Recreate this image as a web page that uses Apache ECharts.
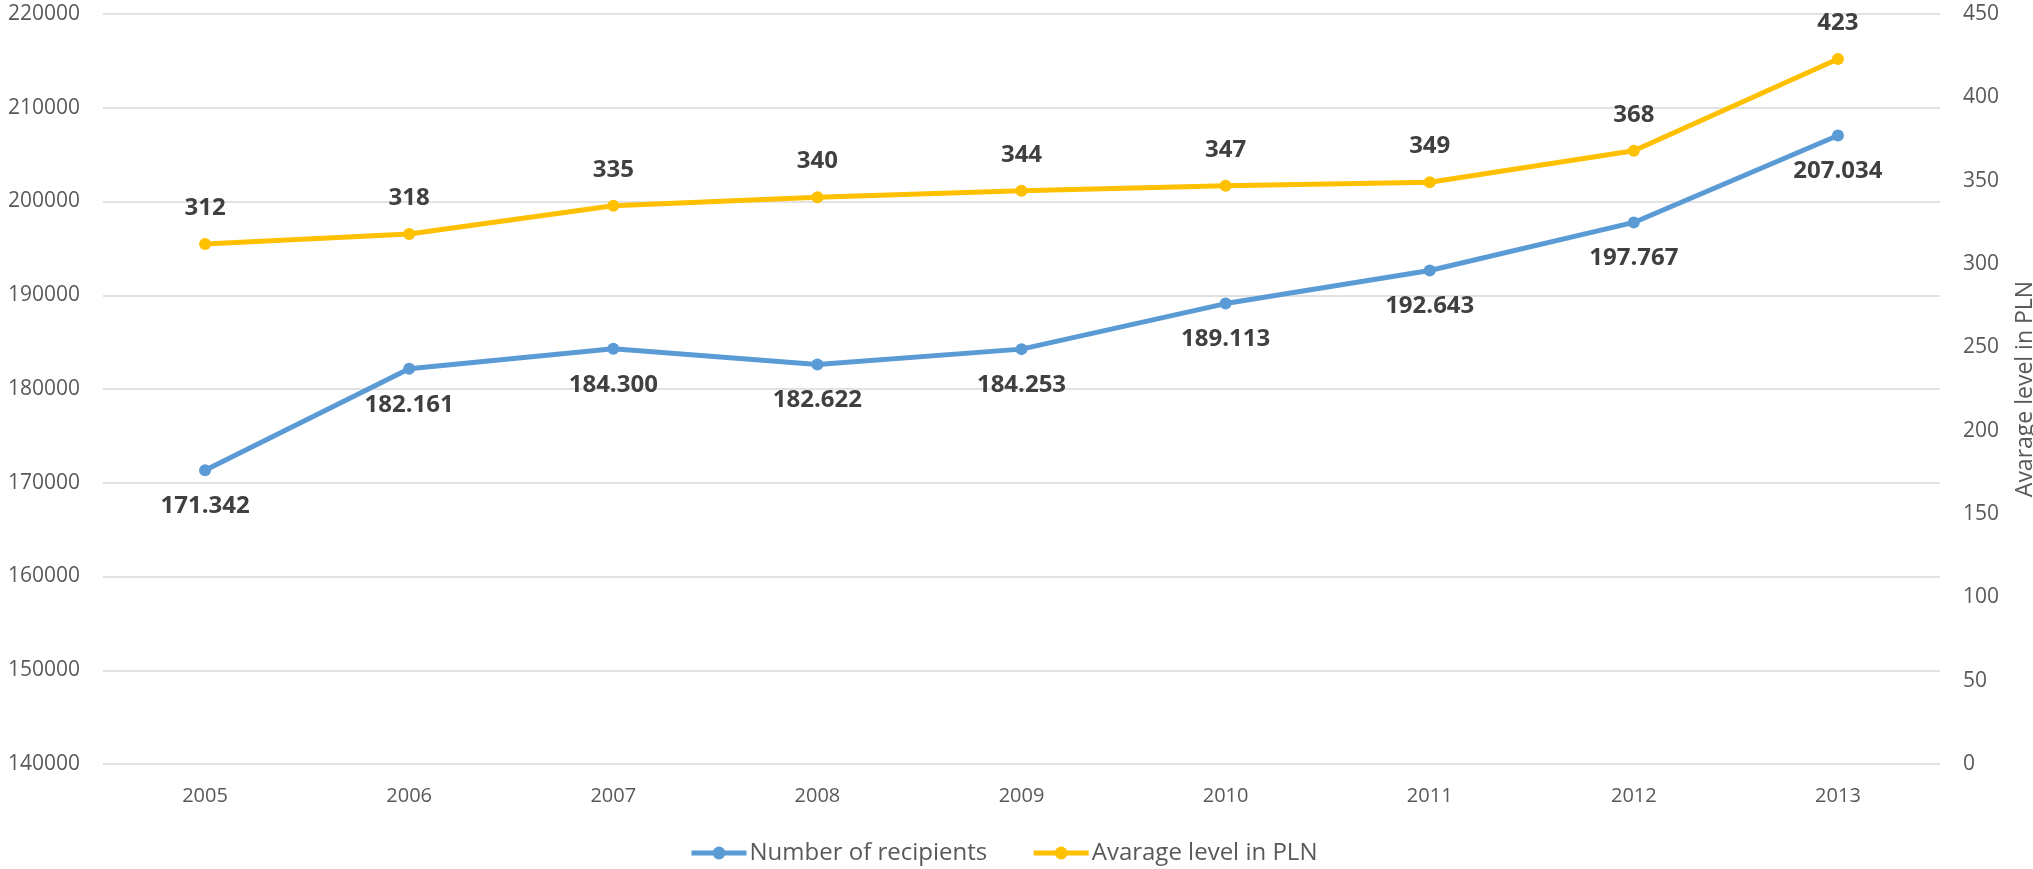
<!DOCTYPE html>
<html>
<head>
<meta charset="utf-8">
<style>
  html, body { margin: 0; padding: 0; background: #fff; }
  #chart { width: 2033px; height: 869px; }
</style>
<script src="https://cdn.jsdelivr.net/npm/echarts@6/dist/echarts.min.js"></script>
</head>
<body>
<div id="chart"></div>
<script>
// Years on the category axis
const years = ['2005', '2006', '2007', '2008', '2009', '2010', '2011', '2012', '2013'];
// Number of recipients (left axis)
const recipients = [171342, 182161, 184300, 182622, 184253, 189113, 192643, 197767, 207034];
// Average benefit level in PLN (right axis)
const avgLevel = [312, 318, 335, 340, 344, 347, 349, 368, 423];

const FONT = '"Open Sans", "Noto Sans", sans-serif';
const BLUE = '#5B9BD5';
const GOLD = '#FFC000';
const TEXT = '#595959';

// Thousands separated with a dot, e.g. 171342 -> 171.342
function dotThousands(v) {
  return String(v).replace(/\B(?=(\d{3})+(?!\d))/g, '.');
}

const chart = echarts.init(document.getElementById('chart'), null, { renderer: 'canvas' });

chart.setOption({
  animation: false,
  backgroundColor: '#ffffff',
  textStyle: { fontFamily: FONT },
  grid: {
    left: 103, right: 93, top: 14, bottom: 105,
    containLabel: false,
    outerBoundsMode: 'none'
  },
  legend: {
    top: 836,
    left: 684,
    itemWidth: 55,
    itemHeight: 16,
    itemGap: 44,
    lineStyle: { width: 5 },
    textStyle: { fontFamily: FONT, fontSize: 24, color: TEXT, padding: [0, 0, 0, -2] },
    data: ['Number of recipients', 'Avarage level in PLN']
  },
  xAxis: {
    type: 'category',
    data: years,
    boundaryGap: true,
    axisLine: { show: false },
    axisTick: { show: false },
    axisLabel: { color: TEXT, fontSize: 20, margin: 22, fontFamily: FONT }
  },
  yAxis: [
    {
      type: 'value',
      min: 140000,
      max: 220000,
      interval: 10000,
      axisLine: { show: false },
      axisTick: { show: false },
      splitLine: { lineStyle: { color: '#d9d9d9', width: 1.5 } },
      axisLabel: {
        color: TEXT, fontSize: 21, margin: 23, fontFamily: FONT,
        formatter: v => String(v)
      }
    },
    {
      type: 'value',
      min: 0,
      max: 450,
      interval: 50,
      position: 'right',
      name: 'Avarage level in PLN',
      nameLocation: 'middle',
      nameRotate: 90,
      nameGap: 74,
      nameMoveOverlap: false,
      nameTextStyle: { color: TEXT, fontSize: 23, fontFamily: FONT },
      axisLine: { show: false },
      axisTick: { show: false },
      splitLine: { show: false },
      axisLabel: { color: TEXT, fontSize: 21, margin: 23, fontFamily: FONT }
    }
  ],
  series: [
    {
      name: 'Number of recipients',
      type: 'line',
      yAxisIndex: 0,
      data: recipients,
      symbol: 'circle',
      symbolSize: 12,
      color: BLUE,
      lineStyle: { width: 5, color: BLUE },
      itemStyle: { color: BLUE },
      label: {
        show: true,
        position: 'bottom',
        distance: 18,
        fontSize: 24,
        fontWeight: 'bold',
        color: '#404040',
        fontFamily: FONT,
        formatter: p => dotThousands(p.value)
      }
    },
    {
      name: 'Avarage level in PLN',
      type: 'line',
      yAxisIndex: 1,
      data: avgLevel,
      symbol: 'circle',
      symbolSize: 12,
      color: GOLD,
      lineStyle: { width: 5, color: GOLD },
      itemStyle: { color: GOLD },
      label: {
        show: true,
        position: 'top',
        distance: 18,
        fontSize: 24,
        fontWeight: 'bold',
        color: '#404040',
        fontFamily: FONT
      }
    }
  ]
});
</script>
</body>
</html>
